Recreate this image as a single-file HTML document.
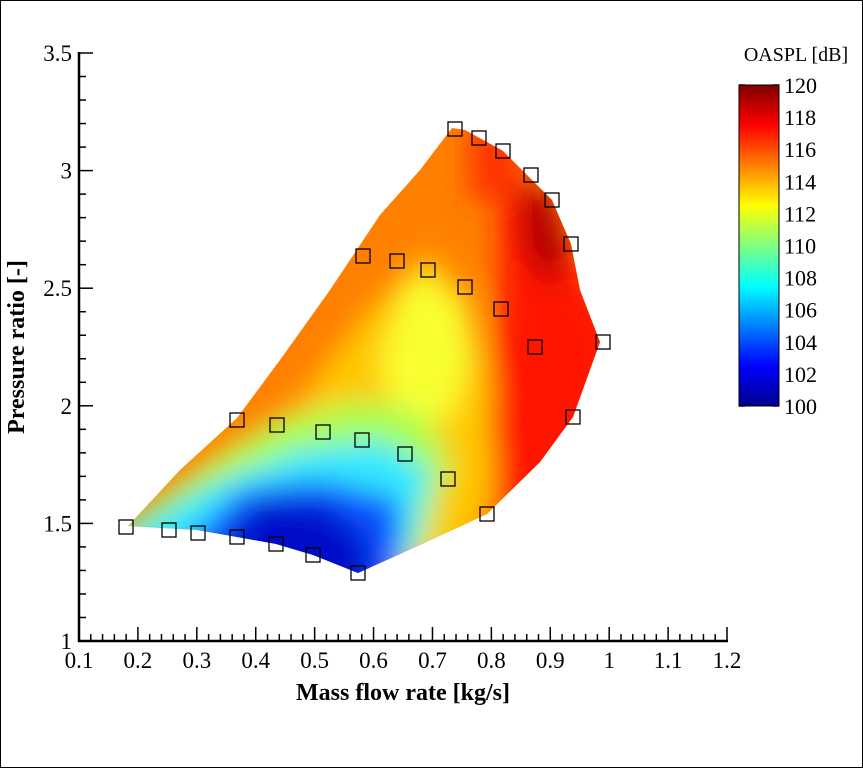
<!DOCTYPE html>
<html><head><meta charset="utf-8"><style>
html,body{margin:0;padding:0;background:#fff;}
svg{display:block;font-family:"Liberation Serif",serif;}
</style></head><body>
<svg id="s" width="863" height="768" viewBox="0 0 863 768" xmlns="http://www.w3.org/2000/svg">
<defs>
<clipPath id="cp"><path d="M128,526 L197,530 L237,537 L276,544 L313,555 L358,573 L420,545 L487,514 L540,462 L573,417 L600,342 L580,290 L571,244 L552,200 L503,151 L465,130 L452,128 L420,170 L380,215 L330,290 L280,360 L237,418 L180,470 Z"/></clipPath>
<filter id="b1" x="-50%" y="-50%" width="200%" height="200%"><feGaussianBlur stdDeviation="14"/></filter>
<linearGradient id="cb" x1="0" y1="1" x2="0" y2="0">
<stop offset="0" stop-color="#00008f"/><stop offset="0.125" stop-color="#0000ff"/>
<stop offset="0.375" stop-color="#00ffff"/><stop offset="0.5" stop-color="#80ff80"/>
<stop offset="0.625" stop-color="#ffff00"/><stop offset="0.875" stop-color="#ff0000"/>
<stop offset="1" stop-color="#800000"/></linearGradient>
</defs>
<rect x="0.5" y="0.5" width="862" height="767" fill="#fff" stroke="#000"/>
<g clip-path="url(#cp)">
<rect x="100" y="100" width="540" height="500" fill="#ff8000"/>
<g filter="url(#b1)">
<polygon points="300,560 360,620 460,580 490,500 500,420 470,300 430,250 360,320 300,400 220,450 130,520" fill="#ffc800"/>
<polygon points="410,270 460,300 470,360 450,420 400,430 380,360" fill="#f8ff30"/>
<polygon points="100,540 200,470 280,420 360,400 420,410 450,460 420,560 300,580" fill="#a8ff50"/>
<polygon points="100,550 200,490 300,450 380,440 430,470 410,560 300,590" fill="#30e8ff"/>
<polygon points="170,560 240,490 320,480 400,500 400,610 300,610" fill="#0850ff"/>
<polygon points="200,570 260,500 330,505 370,540 370,610 240,600" fill="#0008c8"/>
<polygon points="500,200 540,200 620,330 620,420 560,500 500,530 490,420 500,300" fill="#ff1800"/>
<polygon points="520,180 550,190 570,250 550,290 525,250" fill="#b00000"/>
<polygon points="470,110 520,140 520,200 470,200" fill="#ff3000"/>
</g>
</g>
<g id="m" fill="none" stroke="#000" stroke-width="1.3"></g>
<g id="ax" stroke="#000" stroke-width="1.5"></g>
<line x1="79" y1="52" x2="79" y2="642" stroke="#000" stroke-width="2.5"/>
<line x1="78" y1="641" x2="728" y2="641" stroke="#000" stroke-width="2.5"/>
<g id="lab" font-size="23" fill="#000"></g>
<text x="403" y="700" font-size="24" font-weight="bold" text-anchor="middle">Mass flow rate [kg/s]</text>
<text transform="translate(24 347) rotate(-90)" font-size="24" font-weight="bold" text-anchor="middle">Pressure ratio [-]</text>
<text x="796" y="61" font-size="20" text-anchor="middle">OASPL [dB]</text>
<rect x="739" y="85" width="40" height="321" fill="url(#cb)" stroke="#000"/>
<g id="cbl" font-size="22"></g>
</svg>
<script>
var ns="http://www.w3.org/2000/svg";
function el(p,t,a,txt){var e=document.createElementNS(ns,t);for(var k in a)e.setAttribute(k,a[k]);if(txt!==undefined)e.textContent=txt;document.getElementById(p).appendChild(e);}
var pts=[[126,527],[169,530],[198,533],[237,537],[276,544],[313,555],[358,573],[237,420],[277,425],[323,432],[362,440],[405,454],[448,479],[487,514],[363,256],[397,261],[428,270],[465,287],[501,309],[535,347],[573,417],[455,129],[479,138],[503,151],[531,175],[552,200],[571,244],[603,342]];
pts.forEach(function(p){el("m","rect",{x:p[0]-7,y:p[1]-7,width:14,height:14});});
function px(x){return 79+(x-0.1)*589.1;}
function py(y){return 641-(y-1)*235.2;}
for(var i=0;i<=55;i++){var x=px(0.1+i*0.02);var L=(i%5==0)?14:7;el("ax","line",{x1:x,y1:641,x2:x,y2:641-L});}
for(var i=0;i<=25;i++){var y=py(1+i*0.1);var L=(i%5==0)?14:7;el("ax","line",{x1:79,y1:y,x2:79+L,y2:y});}
for(var i=0;i<=11;i++){var v=(0.1+i*0.1);var s=(Math.round(v*10)/10).toString();el("lab","text",{x:px(v),y:668,"text-anchor":"middle"},s);}
for(var i=0;i<=5;i++){var v=1+i*0.5;el("lab","text",{x:72,y:py(v)+8,"text-anchor":"end"},v.toString());}
for(var i=0;i<=10;i++){var v=100+i*2;var y=406-i*32.1;el("cbl","text",{x:784,y:y+8},v.toString());el("ax","line",{x1:739,y1:y,x2:745,y2:y});el("ax","line",{x1:773,y1:y,x2:779,y2:y});}
</script>
</body></html>
